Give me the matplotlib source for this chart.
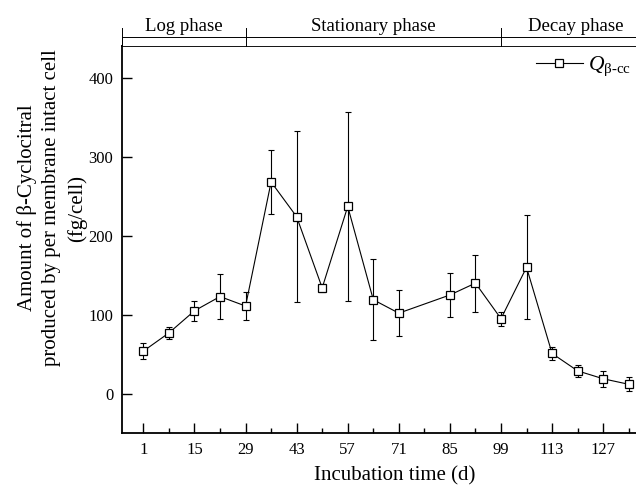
import matplotlib
matplotlib.use("Agg")
import matplotlib.pyplot as plt
from matplotlib.ticker import FixedLocator

plt.rcParams['font.family'] = ['Liberation Serif', 'DejaVu Serif']
plt.rcParams['mathtext.fontset'] = 'custom'
plt.rcParams['mathtext.rm'] = 'Liberation Serif'
plt.rcParams['mathtext.it'] = 'Liberation Serif:italic'

# Data
days = [1, 8, 15, 22, 29, 36, 43, 50, 57, 64, 71, 85, 92, 99, 106, 113, 120, 127, 134]
q_bcc = [54, 77, 105, 123, 111, 268, 224, 134, 237, 119, 102, 125, 140, 95, 160, 51, 29, 19, 12]
q_err = [10, 8, 13, 28, 18, 40, 108, 5, 120, 51, 29, 28, 36, 9, 66, 8.5, 7.5, 10, 9]
xticks = [1, 15, 29, 43, 57, 71, 85, 99, 113, 127]
yticks = [0, 100, 200, 300, 400]
phase_names = ["Log phase", "Stationary phase", "Decay phase"]
phase_bounds = [-5, 29, 99, 140]

W, H = 636, 491
fig = plt.figure(figsize=(W / 100, H / 100), dpi=100)

x0, x1 = -5, 140
left_px, right_px = 121.5, 650.6
top_px, bot_px = 46.0, 433.3
aw = right_px - left_px
ah = bot_px - top_px
ax = fig.add_axes([left_px / W, 1 - bot_px / H, aw / W, ah / H])

ax.errorbar(days, q_bcc, yerr=q_err, fmt='none', ecolor='black', elinewidth=0.8,
            capsize=2.5, capthick=0.8, zorder=2)
ax.plot(days, q_bcc, color='black', lw=0.8, marker='s', ms=5.8, mfc='white', mec='black',
        mew=0.9, label=r'$Q_{\text{β-cc}}$', zorder=3)

ax.set_xlim(x0, x1)
ax.set_ylim(-50, 440)
ax.xaxis.set_major_locator(FixedLocator(xticks))
ax.xaxis.set_minor_locator(FixedLocator([t + 7 for t in xticks]))
ax.yaxis.set_major_locator(FixedLocator(yticks))
ax.tick_params(axis='both', which='major', direction='in', length=7, width=1.0, labelsize=12)
ax.tick_params(axis='x', which='major', pad=6.5)
ax.tick_params(axis='y', which='major', pad=6)
ax.tick_params(axis='x', which='minor', direction='in', length=3.5, width=1.0)
for s in ax.spines.values():
    s.set_linewidth(1.3)

ax.set_xlabel('Incubation time (d)', fontsize=15)
ax.xaxis.set_label_coords((394.7 - left_px) / aw, (bot_px - 466.5) / ah)
ax.set_ylabel('Amount of β-Cyclocitral\nproduced by per membrane intact cell\n(fg/cell)',
              fontsize=15, linespacing=1.4)
ax.yaxis.set_label_coords((87 - left_px) / aw, (bot_px - 208) / ah)

leg = ax.legend(loc='upper right', frameon=False, fontsize=15.5, handlelength=2.18,
                handletextpad=0.23, borderpad=0, borderaxespad=0,
                bbox_to_anchor=(631 / W, 1 - 55 / H), bbox_transform=fig.transFigure)

# Phase bar on top
ph_top = 36.7
axp = fig.add_axes([left_px / W, 1 - top_px / H, aw / W, (top_px - ph_top) / H])
axp.set_xlim(x0, x1)
axp.set_ylim(0, 1)
axp.set_xticks([])
axp.set_yticks([])
for k in ['bottom', 'right']:
    axp.spines[k].set_visible(False)
axp.spines['top'].set_linewidth(0.7)
axp.spines['left'].set_linewidth(0.7)
ext = (top_px - 28.5) / (top_px - ph_top)
for b in phase_bounds[:-1]:
    axp.plot([b, b], [0, ext], color='black', lw=0.7, clip_on=False)
for i, name in enumerate(phase_names):
    cx = (phase_bounds[i] + phase_bounds[i + 1]) / 2
    axp.text(cx, 1.2, name, ha='center', va='bottom', fontsize=13.5, clip_on=False)

fig.savefig('out.png', dpi=100)
